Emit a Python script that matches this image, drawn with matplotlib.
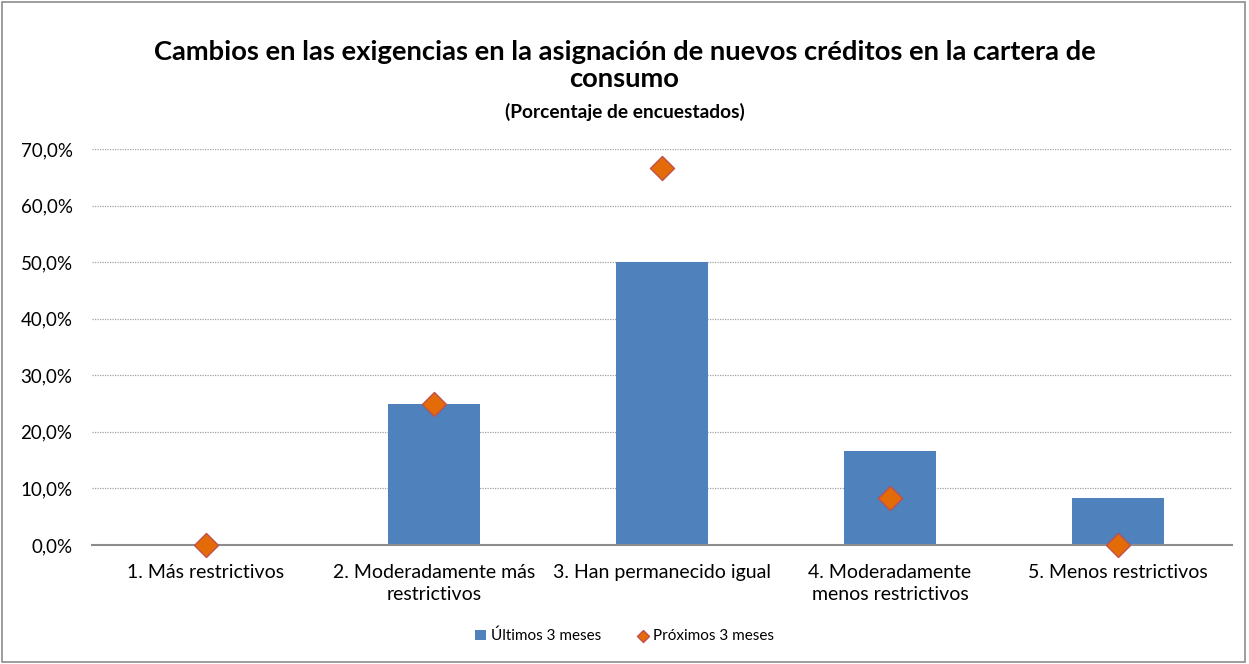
import numpy as np
import matplotlib.pyplot as plt
from matplotlib.patches import Rectangle

categories = ["1. Más restrictivos", "2. Moderadamente más\nrestrictivos",
              "3. Han permanecido igual", "4. Moderadamente\nmenos restrictivos",
              "5. Menos restrictivos"]
ultimos = [0.0, 25.0, 50.0, 16.7, 8.3]
proximos = [0.0, 25.0, 66.7, 8.3, 0.0]
yticks = [0, 10, 20, 30, 40, 50, 60, 70]

plt.rcParams['font.family'] = ['Lato', 'DejaVu Sans']

fig = plt.figure(figsize=(12.49, 6.64), dpi=100)
ax = fig.add_axes([0.0737, 0.1792, 0.9127, 0.5964])

x = np.arange(len(categories))
bars = ax.bar(x, ultimos, width=0.4, color="#4F81BD", zorder=2, label="Últimos 3 meses")
pts = ax.scatter(x, proximos, marker="D", s=150, color="#E36C09", edgecolor="#C0504D",
                 linewidth=1, zorder=3, label="Próximos 3 meses", clip_on=False)

ax.set_xlim(-0.5, len(categories) - 0.5)
ax.set_ylim(0, 70)
ax.set_yticks(yticks)
ax.set_yticklabels([f"{v:.1f}%".replace(".", ",") for v in yticks], fontsize=13.5)
ax.set_xticks(x)
ax.set_xticklabels(categories, fontsize=14, linespacing=1.35)
ax.tick_params(axis="y", length=0, pad=14)
ax.tick_params(axis="x", length=0, pad=14)
ax.yaxis.grid(True, linestyle=(0, (1, 1)), color="#A0A0A0", linewidth=0.9, zorder=0)
for s in ["top", "right", "left"]:
    ax.spines[s].set_visible(False)
ax.spines["bottom"].set_color("#8C8C8C")
ax.spines["bottom"].set_linewidth(1.5)
ax.spines["bottom"].set_zorder(2.5)

fig.text(0.5, 0.922, "Cambios en las exigencias en la asignación de nuevos créditos en la cartera de",
         ha="center", va="center", fontsize=19.7, fontweight="bold")
fig.text(0.5, 0.881, "consumo", ha="center", va="center", fontsize=19.7, fontweight="bold")
fig.text(0.5, 0.832, "(Porcentaje de encuestados)", ha="center", va="center", fontsize=13.8,
         fontweight="bold")

fig.legend([bars, pts], ["Últimos 3 meses", "Próximos 3 meses"], loc="center",
           bbox_to_anchor=(0.5, 0.042), ncol=2, frameon=False, fontsize=11,
           handlelength=0.7, handleheight=0.7, handletextpad=0.3, columnspacing=2.4,
           markerscale=0.5)

fig.patches.append(Rectangle((0.002, 0.003), 0.995, 0.994, transform=fig.transFigure,
                             fill=False, edgecolor="#8C8C8C", linewidth=1.2))

fig.savefig("out.png", dpi=100, facecolor="white")
